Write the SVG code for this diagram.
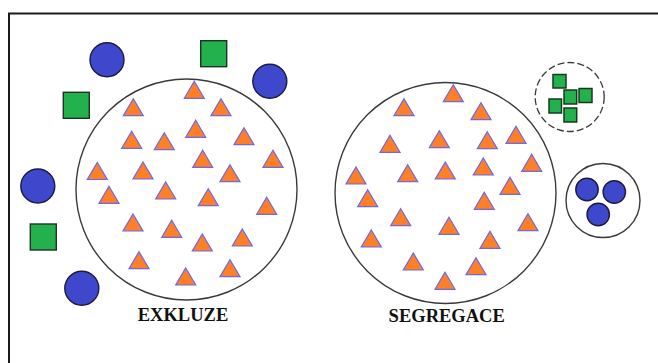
<svg xmlns="http://www.w3.org/2000/svg" width="658" height="363" viewBox="0 0 658 363">
<defs>
<style>
.frame{fill:none;stroke:#1a1a1a;stroke-width:2}
.big{fill:#fff;stroke:#3a3a3a;stroke-width:1.4}
.dash{fill:#fff;stroke:#3a3a3a;stroke-width:1.3;stroke-dasharray:7 3}
.blue{fill:#3F48CC;stroke:#1c1c40;stroke-width:1.4}
.green{fill:#22B14C;stroke:#1f3325;stroke-width:1.4}
.gs{fill:#22B14C;stroke:#143a1e;stroke-width:1.5}
.tri{fill:#FF7F27;stroke:#6a6ae8;stroke-width:1.2}
.lbl{font-family:"Liberation Serif","Times New Roman",serif;font-weight:bold;font-size:18.5px;fill:#111;text-anchor:middle}
</style>
<polygon id="t" class="tri" points="0,-17 10,0 -10,0"/>
</defs>
<rect class="frame" x="9" y="13.5" width="660" height="360"/>

<g id="exkluze">
<circle class="big" cx="186.5" cy="189.5" r="110.5"/>
<g id="exkluze-triangles">
<use href="#t" x="194.3" y="98.3"/>
<use href="#t" x="133.3" y="115.7"/>
<use href="#t" x="221" y="115.7"/>
<use href="#t" x="195.7" y="137.3"/>
<use href="#t" x="244" y="144.7"/>
<use href="#t" x="131.7" y="148.3"/>
<use href="#t" x="164.3" y="149.7"/>
<use href="#t" x="202.7" y="167.3"/>
<use href="#t" x="273" y="167.3"/>
<use href="#t" x="97.3" y="179.5"/>
<use href="#t" x="143" y="179"/>
<use href="#t" x="230" y="181.7"/>
<use href="#t" x="165.7" y="199"/>
<use href="#t" x="109" y="203.3"/>
<use href="#t" x="208.3" y="205.7"/>
<use href="#t" x="266.7" y="214.3"/>
<use href="#t" x="133" y="231"/>
<use href="#t" x="171.7" y="237.3"/>
<use href="#t" x="202.3" y="251"/>
<use href="#t" x="242.3" y="246"/>
<use href="#t" x="139" y="268.7"/>
<use href="#t" x="230" y="276.7"/>
<use href="#t" x="185.7" y="285"/>
</g>
<text class="lbl" x="183" y="321">EXKLUZE</text>
</g>

<g id="excluded">
<circle class="blue" cx="107" cy="59.7" r="17"/>
<circle class="blue" cx="269.8" cy="81.3" r="17"/>
<circle class="blue" cx="37.8" cy="186" r="17"/>
<circle class="blue" cx="81.8" cy="288.3" r="17"/>
<rect class="green" x="200.7" y="40.7" width="26" height="26"/>
<rect class="green" x="63.3" y="92.3" width="26" height="26"/>
<rect class="green" x="30.3" y="224" width="26" height="26"/>
</g>

<g id="segregace">
<circle class="big" cx="445.5" cy="193" r="110.5"/>
<g id="segregace-triangles">
<use href="#t" x="453.3" y="101.7"/>
<use href="#t" x="404" y="115.7"/>
<use href="#t" x="481" y="119.7"/>
<use href="#t" x="390" y="152.3"/>
<use href="#t" x="439.3" y="147.7"/>
<use href="#t" x="487.3" y="148.7"/>
<use href="#t" x="516" y="143.3"/>
<use href="#t" x="531.7" y="171.3"/>
<use href="#t" x="356" y="184"/>
<use href="#t" x="407.7" y="181.7"/>
<use href="#t" x="445.3" y="179"/>
<use href="#t" x="483.3" y="175"/>
<use href="#t" x="510" y="194.3"/>
<use href="#t" x="367.7" y="206.7"/>
<use href="#t" x="484.3" y="209.3"/>
<use href="#t" x="400.7" y="225.7"/>
<use href="#t" x="449" y="234.3"/>
<use href="#t" x="528" y="230.7"/>
<use href="#t" x="371.3" y="247"/>
<use href="#t" x="490" y="248.3"/>
<use href="#t" x="413.3" y="270"/>
<use href="#t" x="476" y="274.7"/>
<use href="#t" x="445" y="289.3"/>
</g>
<text class="lbl" x="446.7" y="322">SEGREGACE</text>
</g>

<g id="green-group">
<circle class="dash" cx="569.7" cy="97" r="34.5"/>
<rect class="gs" x="553" y="74.5" width="13" height="13.5"/>
<rect class="gs" x="564" y="90" width="12.7" height="14"/>
<rect class="gs" x="579" y="88.5" width="13" height="14"/>
<rect class="gs" x="549" y="99" width="12.5" height="14"/>
<rect class="gs" x="564" y="108" width="12.7" height="14"/>
</g>

<g id="blue-group">
<circle class="big" cx="603" cy="200.5" r="37"/>
<circle class="blue" cx="587" cy="189.5" r="11.2"/>
<circle class="blue" cx="614.3" cy="192" r="11.2"/>
<circle class="blue" cx="598.2" cy="214.5" r="11.2"/>
</g>

<g id="connectors"></g>
</svg>
